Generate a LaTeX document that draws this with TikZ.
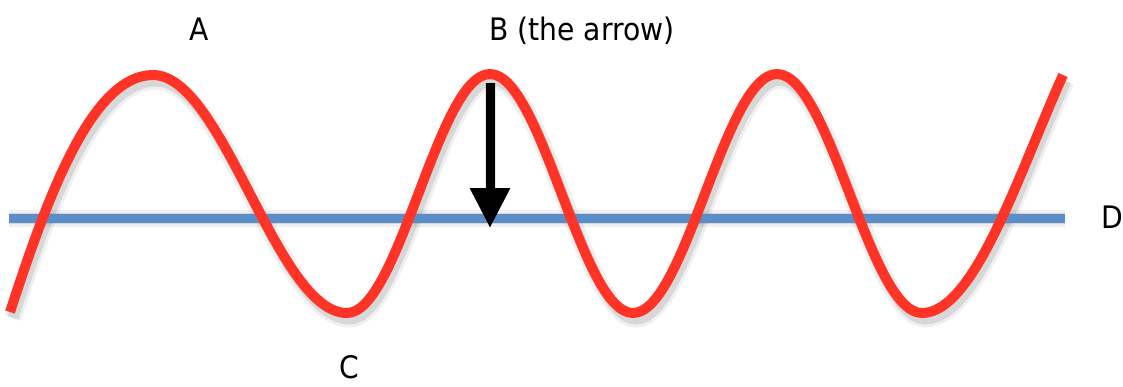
\documentclass[tikz,border=0pt]{standalone}
\usepackage{fontspec}
\setmainfont{DejaVu Sans}[FakeStretch=0.91]
\usetikzlibrary{arrows.meta}
\definecolor{wavered}{RGB}{255,51,38}
\definecolor{lineblue}{RGB}{91,142,201}
\newcommand\wavepath{(10,312) .. controls (45,205) and (90,75) .. (153,75)
  .. controls (223.6,75) and (276.4,313) .. (347,313)
  .. controls (399,313) and (438,74) .. (490,74)
  .. controls (542,74) and (581,313) .. (633,313)
  .. controls (685.4,313) and (724.6,74) .. (777,74)
  .. controls (829.8,74) and (869.2,313) .. (922,313)
  .. controls (975,313) and (1020,170) .. (1063,75)}
\begin{document}
\begin{tikzpicture}[x=1pt,y=-1pt,
  lbl/.style={font=\fontsize{31}{36}\selectfont, inner sep=0pt},
  shadowA/.style={draw=black, opacity=0.06, line width=17pt},
  shadowB/.style={draw=black, opacity=0.10, line width=11pt},
  wave/.style={draw=wavered, line width=10pt},
  axisline/.style={draw=lineblue, line width=9pt},
  bigarrow/.style={draw=black, line width=9pt, -{Triangle[width=38pt,length=40pt]}}]
\useasboundingbox (0,0) rectangle (1123,386);
% coordinates
\coordinate (dl) at (9,218);
\coordinate (dr) at (1065,218);
\coordinate (btop) at (490,83);
\coordinate (btip) at (490,228);
% shadows
\begin{scope}[shift={(3,6)}]
  \path[shadowA] (dl) -- (dr);
  \path[shadowB] (dl) -- (dr);
  \path[shadowA] \wavepath;
  \path[shadowB] \wavepath;
  \path[shadowB, -{Triangle[width=38pt,length=40pt]}, fill=black, fill opacity=0.1] (btop) -- (btip);
\end{scope}
% blue axis
\path[axisline] (dl) -- (dr);
% red wave
\path[wave] \wavepath;
% arrow
\draw[bigarrow] (btop) -- (btip);
% labels
\node[lbl, anchor=base] (A) at (199,40) {A};
\node[lbl, anchor=base west] (B) at (489,40) {B (the arrow)};
\node[lbl, anchor=base] (C) at (349,378) {C};
\node[lbl, anchor=base west] (D) at (1101,228) {D};
\end{tikzpicture}
\end{document}
